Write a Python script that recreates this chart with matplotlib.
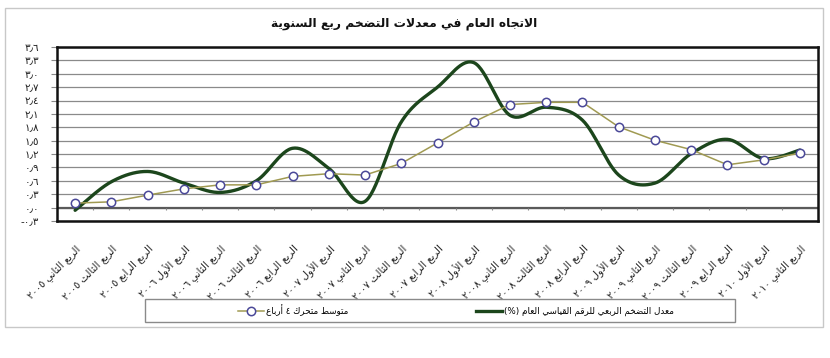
import numpy as np
import matplotlib
matplotlib.use("Agg")
import matplotlib.pyplot as plt
from matplotlib.patches import Rectangle
from matplotlib.lines import Line2D

# ---------------- data ----------------
quarters = ["الربع الثاني ٢٠٠٥", "الربع الثالث ٢٠٠٥", "الربع الرابع ٢٠٠٥",
            "الربع الأول ٢٠٠٦", "الربع الثاني ٢٠٠٦", "الربع الثالث ٢٠٠٦", "الربع الرابع ٢٠٠٦",
            "الربع الأول ٢٠٠٧", "الربع الثاني ٢٠٠٧", "الربع الثالث ٢٠٠٧", "الربع الرابع ٢٠٠٧",
            "الربع الأول ٢٠٠٨", "الربع الثاني ٢٠٠٨", "الربع الثالث ٢٠٠٨", "الربع الرابع ٢٠٠٨",
            "الربع الأول ٢٠٠٩", "الربع الثاني ٢٠٠٩", "الربع الثالث ٢٠٠٩", "الربع الرابع ٢٠٠٩",
            "الربع الأول ٢٠١٠", "الربع الثاني ٢٠١٠"]
quarterly_inflation = [-0.06, 0.58, 0.81, 0.55, 0.34, 0.60, 1.33, 0.88, 0.14, 1.92, 2.70,
                       3.25, 2.07, 2.25, 1.96, 0.73, 0.55, 1.21, 1.53, 1.10, 1.29]
moving_avg = [0.10, 0.13, 0.28, 0.42, 0.51, 0.51, 0.70, 0.76, 0.73, 0.99, 1.45,
              1.92, 2.31, 2.36, 2.36, 1.81, 1.51, 1.30, 0.96, 1.07, 1.22]
yticks = [-0.3, 0.0, 0.3, 0.6, 0.9, 1.2, 1.5, 1.8, 2.1, 2.4, 2.7, 3.0, 3.3, 3.6]
title = "الاتجاه العام في معدلات التضخم ربع السنوية"
label_line = "معدل التضخم الربعي للرقم القياسي العام (%)"
label_ma = "متوسط متحرك ٤ أرباع"

# ---------------- Arabic shaping (presentation forms + visual order) ----------------
def _four(b):
    return tuple(chr(b + i) for i in range(4))

def _two(b):
    return (chr(b), chr(b + 1))

FORMS = {
    'ء': ('\uFE80',), 'آ': _two(0xFE81), 'أ': _two(0xFE83), 'ؤ': _two(0xFE85),
    'إ': _two(0xFE87), 'ئ': _four(0xFE89), 'ا': _two(0xFE8D), 'ب': _four(0xFE8F),
    'ة': _two(0xFE93), 'ت': _four(0xFE95), 'ث': _four(0xFE99), 'ج': _four(0xFE9D),
    'ح': _four(0xFEA1), 'خ': _four(0xFEA5), 'د': _two(0xFEA9), 'ذ': _two(0xFEAB),
    'ر': _two(0xFEAD), 'ز': _two(0xFEAF), 'س': _four(0xFEB1), 'ش': _four(0xFEB5),
    'ص': _four(0xFEB9), 'ض': _four(0xFEBD), 'ط': _four(0xFEC1), 'ظ': _four(0xFEC5),
    'ع': _four(0xFEC9), 'غ': _four(0xFECD), 'ف': _four(0xFED1), 'ق': _four(0xFED5),
    'ك': _four(0xFED9), 'ل': _four(0xFEDD), 'م': _four(0xFEE1), 'ن': _four(0xFEE5),
    'ه': _four(0xFEE9), 'و': _two(0xFEED), 'ى': _two(0xFEEF), 'ي': _four(0xFEF1),
}
LAM_ALEF = {'آ': _two(0xFEF5), 'أ': _two(0xFEF7), 'إ': _two(0xFEF9), 'ا': _two(0xFEFB)}

def shape_word(w):
    out = []
    i, n = 0, len(w)
    while i < n:
        c = w[i]
        if c not in FORMS:
            out.append(c)
            i += 1
            continue
        prev_j = i > 0 and w[i - 1] in FORMS and len(FORMS[w[i - 1]]) == 4
        if c == 'ل' and i + 1 < n and w[i + 1] in LAM_ALEF:
            out.append(LAM_ALEF[w[i + 1]][1 if prev_j else 0])
            i += 2
            continue
        f = FORMS[c]
        next_j = len(f) == 4 and i + 1 < n and w[i + 1] in FORMS
        if len(f) == 1:
            out.append(f[0])
        elif prev_j and next_j:
            out.append(f[3])
        elif prev_j:
            out.append(f[1])
        elif next_j:
            out.append(f[2])
        else:
            out.append(f[0])
        i += 1
    return ''.join(reversed(out))

def ar(s):
    toks = s.split(' ')
    res = []
    for t in reversed(toks):
        if any(ch in FORMS for ch in t):
            res.append(shape_word(t))
        else:
            res.append(t)
    return ' '.join(res)

AR_DIGITS = str.maketrans('0123456789.', '٠١٢٣٤٥٦٧٨٩٫')

def ar_num(v):
    s = f"{abs(v):.1f}".translate(AR_DIGITS)
    return ('-' if v < 0 else '') + s

# ---------------- smoothing (Excel-like cubic Bezier through points) ----------------
def smooth(x, y, steps=30):
    x = np.asarray(x, float)
    y = np.asarray(y, float)
    n = len(x)
    xs, ys = [], []
    for i in range(n - 1):
        p0 = np.array([x[max(i - 1, 0)], y[max(i - 1, 0)]])
        p1 = np.array([x[i], y[i]])
        p2 = np.array([x[i + 1], y[i + 1]])
        p3 = np.array([x[min(i + 2, n - 1)], y[min(i + 2, n - 1)]])
        c1 = p1 + (p2 - p0) / 6.0
        c2 = p2 - (p3 - p1) / 6.0
        t = np.linspace(0, 1, steps, endpoint=(i == n - 2))[:, None]
        pts = ((1 - t) ** 3) * p1 + 3 * ((1 - t) ** 2) * t * c1 + 3 * (1 - t) * t ** 2 * c2 + t ** 3 * p2
        xs.append(pts[:, 0])
        ys.append(pts[:, 1])
    return np.concatenate(xs), np.concatenate(ys)

# ---------------- figure ----------------
plt.rcParams['font.family'] = ['DejaVu Sans']
W, H = 830, 358
fig = plt.figure(figsize=(W / 100, H / 100), dpi=100)
fig.patch.set_facecolor('white')

# outer chart frame
fig.add_artist(Rectangle((5 / W, 1 - 327 / H), 818 / W, 319 / H, transform=fig.transFigure,
                         fill=False, edgecolor='#c8c8c8', linewidth=1.0))

ax = fig.add_axes([57 / W, 1 - 221 / H, (818 - 57) / W, (221 - 47) / H])
x = np.arange(len(quarters))

ax.set_xlim(-0.5, len(quarters) - 0.5)
ax.set_ylim(-0.3, 3.6)
ax.set_yticks(yticks)
ax.set_yticklabels([ar_num(v) for v in yticks], fontsize=7.5, color='#222222')
ax.yaxis.grid(True, color='#8a8a8a', linewidth=0.9)
ax.set_axisbelow(True)
ax.axhline(0, color='#5a5a5a', linewidth=1.6, zorder=1.5)
ax.vlines(x[:-1] + 0.5, -0.05, 0, color='#8a8a8a', linewidth=0.8, zorder=1.5)
for s in ax.spines.values():
    s.set_color('#111111')
    s.set_linewidth(1.8)
ax.tick_params(axis='y', length=4, color='#8a8a8a', pad=9)

ax.set_xticks(x)
ax.set_xticklabels([ar(q) for q in quarters], rotation=45, ha='right', va='top',
                   rotation_mode='anchor', fontsize=7.2, color='#222222')
ax.tick_params(axis='x', length=0, pad=16)

sx, sy = smooth(x, quarterly_inflation)
ax.plot(sx, sy, color='#1c461c', linewidth=2.4, solid_capstyle='round', zorder=3)
ax.plot(x, moving_avg, color='#a09a52', linewidth=1.1, marker='o', markersize=6,
        markerfacecolor='white', markeredgecolor='#4a4898', markeredgewidth=1.1, zorder=4)

fig.text(404 / W, 1 - 24 / H, ar(title), ha='center', va='center', fontsize=8.8,
         fontweight='bold', color='#111111')

# legend
fig.add_artist(Rectangle((145 / W, 1 - 322 / H), (735 - 145) / W, 23 / H, transform=fig.transFigure,
                         fill=False, edgecolor='#8a8a8a', linewidth=1.0))
h_ma = Line2D([], [], color='#a09a52', linewidth=1.1, marker='o', markersize=6,
              markerfacecolor='white', markeredgecolor='#4a4898', markeredgewidth=1.1)
h_line = Line2D([], [], color='#1c461c', linewidth=2.4)
fig.legend([h_ma, h_line], [ar(label_ma), ar(label_line)], loc='center',
           bbox_to_anchor=(456 / W, 1 - 310.5 / H), ncol=2, frameon=False, fontsize=6.3,
           handlelength=3.0, handletextpad=0.25, columnspacing=14.5)

fig.savefig('out.png', dpi=100, facecolor='white')
